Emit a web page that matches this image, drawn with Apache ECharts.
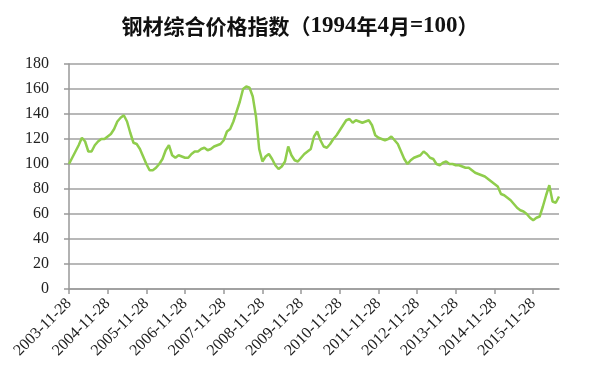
<!DOCTYPE html>
<html>
<head>
<meta charset="utf-8">
<script src="https://cdn.jsdelivr.net/npm/echarts@6/dist/echarts.min.js"></script>
<style>html,body{margin:0;padding:0;background:#fff}#c{width:600px;height:384px}</style>
</head>
<body>
<div id="c"></div>
<script>
var startYear = 2003, startMonth = 11, count = 153;
var categories = [];
for (var k = 0; k < count; k++) {
  var m = startMonth - 1 + k;
  var y = startYear + Math.floor(m / 12);
  var mm = (m % 12) + 1;
  categories.push(y + '-' + (mm < 10 ? '0' + mm : mm) + '-28');
}
var xTickLabels = ['2003-11-28','2004-11-28','2005-11-28','2006-11-28','2007-11-28','2008-11-28','2009-11-28','2010-11-28','2011-11-28','2012-11-28','2013-11-28','2014-11-28','2015-11-28'];
var yTicks = [0,20,40,60,80,100,120,140,160,180];
var priceIndex = [
 100,105,110,115,121,118,110,110,115,118,120,120,
 122,124,128,134,137,139,134,125,117,116,112,106,
 100,95,95,97,100,104,111,115,107,105,107,106,
 105,105,108,110,110,112,113,111,112,114,115,116,
 119,126,128,134,142,150,160,162,161,154,138,112,
 102,106,108,104,99,96,98,102,114,107,103,102,
 105,108,110,112,122,126,119,114,113,116,120,123,
 127,131,135,136,133,135,134,133,134,135,131,123,
 121,120,119,120,122,119,116,110,104,100,103,105,
 106,107,110,108,105,104,100,99,101,102,100,100,
 99,99,98,97,97,95,93,92,91,90,88,86,
 84,82,76,75,73,71,68,65,63,62,60,57,
 55,57,58,66,75,83,70,69,74
];
var chart = echarts.init(document.getElementById('c'), null, {renderer: 'canvas'});
chart.setOption({
  animation: false,
  backgroundColor: '#ffffff',
  title: {
    text: '{a|钢材综合价格指数（}{b|1994}{a|年}{b|4}{a|月}{b|=100}{a|）}',
    left: 295, top: 10, textAlign: 'center',
    textStyle: {
      rich: {
        a: {fontFamily: 'Noto Sans CJK SC', fontWeight: 'bold', fontSize: 21, color: '#111'},
        b: {fontFamily: 'Liberation Serif', fontWeight: 'bold', fontSize: 23, color: '#111'}
      }
    }
  },
  grid: {left: 69, right: 41, top: 64, bottom: 95},
  xAxis: {
    type: 'category',
    data: categories,
    boundaryGap: false,
    axisLine: {lineStyle: {color: '#999', width: 1.5}},
    axisTick: {show: true, interval: function(i){ return i % 12 === 0; }, length: 5, lineStyle: {color: '#999', width: 1.5}},
    axisLabel: {
      interval: function(i){ return i % 12 === 0; },
      formatter: function(v, i){ return xTickLabels[i / 12] || v; },
      rotate: 45, margin: 12,
      fontFamily: 'Liberation Serif', fontSize: 16, color: '#222'
    },
    splitLine: {show: false}
  },
  yAxis: {
    type: 'value', min: 0, max: 180, interval: 20,
    axisLine: {show: true, lineStyle: {color: '#999', width: 1.5}},
    axisTick: {show: true, length: 5, lineStyle: {color: '#999', width: 1.5}},
    axisLabel: {margin: 20, fontFamily: 'Liberation Serif', fontSize: 16, color: '#222',
      formatter: function(v){ return yTicks.indexOf(v) >= 0 ? String(v) : ''; }},
    splitLine: {show: true, lineStyle: {color: '#a0a0a0', width: 1.5}}
  },
  series: [{
    type: 'line',
    data: priceIndex,
    showSymbol: false,
    symbol: 'none',
    lineStyle: {color: '#8fcd4c', width: 2.5},
    itemStyle: {color: '#8fcd4c'}
  }]
});
</script>
</body>
</html>
